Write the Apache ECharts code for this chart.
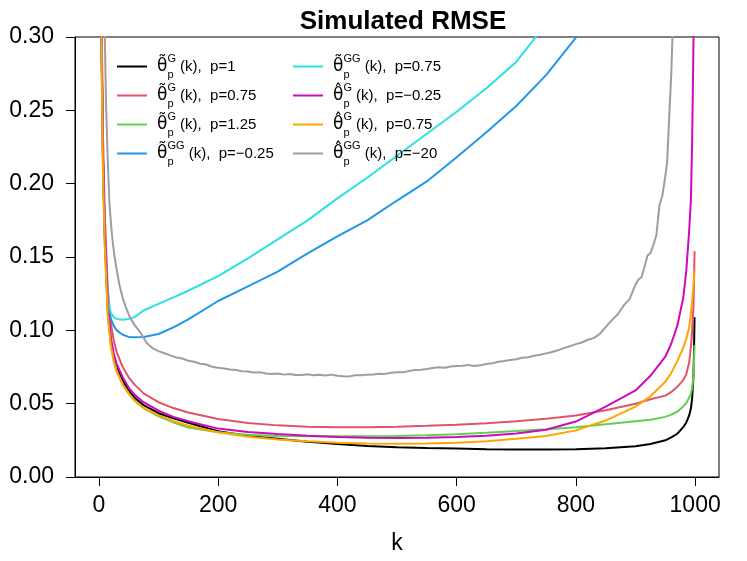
<!DOCTYPE html>
<html>
<head>
<meta charset="utf-8">
<script src="https://cdn.jsdelivr.net/npm/echarts@6/dist/echarts.min.js"></script>
<style>
  html, body { margin: 0; padding: 0; background: #fff; }
  #chart { width: 747px; height: 561px; }
</style>
</head>
<body>
<div id="chart"></div>
<script>
// k values shared by the smooth curves
const k = [1, 2, 3, 5, 7, 10, 15, 20, 25, 30, 40, 50, 60, 75, 100, 125, 150, 200, 250, 300,
  350, 400, 450, 500, 550, 600, 650, 700, 750, 800, 850, 900, 925, 950, 960, 970, 980, 985,
  990, 993, 995, 997, 998, 999];

const tildeG_p1 = [0.80, 0.52, 0.40, 0.28, 0.215, 0.165, 0.115, 0.093, 0.082, 0.075, 0.066, 0.059,
  0.054, 0.049, 0.0435, 0.040, 0.037, 0.0312, 0.028, 0.026, 0.024, 0.0225, 0.0212, 0.0203, 0.0197,
  0.0194, 0.019, 0.0187, 0.0187, 0.0189, 0.0196, 0.021, 0.0225, 0.025, 0.027, 0.0295, 0.034, 0.037,
  0.042, 0.047, 0.054, 0.067, 0.084, 0.109];
const tildeG_p075 = [0.85, 0.56, 0.43, 0.30, 0.232, 0.178, 0.128, 0.105, 0.093, 0.085, 0.075, 0.068,
  0.063, 0.057, 0.051, 0.047, 0.044, 0.0395, 0.0368, 0.0352, 0.0343, 0.034, 0.034, 0.0343, 0.0349,
  0.0357, 0.0367, 0.038, 0.0397, 0.042, 0.0455, 0.050, 0.053, 0.0555, 0.058, 0.0615, 0.066, 0.070,
  0.078, 0.089, 0.100, 0.115, 0.130, 0.154];
const tildeG_p125 = [0.78, 0.50, 0.39, 0.27, 0.205, 0.158, 0.110, 0.090, 0.079, 0.072, 0.063, 0.057,
  0.052, 0.047, 0.0413, 0.0372, 0.0338, 0.0305, 0.0288, 0.028, 0.0277, 0.0277, 0.0278, 0.028, 0.0285,
  0.0291, 0.0301, 0.0313, 0.0326, 0.034, 0.036, 0.038, 0.039, 0.041, 0.0425, 0.0445, 0.048, 0.0505,
  0.054, 0.057, 0.061, 0.068, 0.076, 0.090];
const tildeGG_pm025 = [0.80, 0.52, 0.40, 0.28, 0.215, 0.165, 0.120, 0.108, 0.103, 0.100, 0.097, 0.0955,
  0.0953, 0.0955, 0.0975, 0.102, 0.1075, 0.120, 0.130, 0.140, 0.1525, 0.164, 0.175, 0.1885, 0.2015,
  0.218, 0.235, 0.253, 0.274, 0.2995, 0.33, null, null, null, null, null, null, null,
  null, null, null, null, null, null];
const tildeGG_p075 = [0.80, 0.52, 0.40, 0.28, 0.215, 0.165, 0.122, 0.112, 0.109, 0.1078, 0.1072, 0.1078,
  0.109, 0.1135, 0.118, 0.1225, 0.127, 0.137, 0.149, 0.162, 0.175, 0.190, 0.204, 0.219, 0.234,
  0.249, 0.265, 0.283, 0.309, null, null, null, null, null, null, null, null, null,
  null, null, null, null, null, null];
const hatG_pm025 = [0.80, 0.52, 0.40, 0.285, 0.218, 0.167, 0.117, 0.095, 0.084, 0.077, 0.068, 0.061,
  0.056, 0.051, 0.0452, 0.041, 0.038, 0.033, 0.0307, 0.0293, 0.0281, 0.0273, 0.0268, 0.0266, 0.0268,
  0.0273, 0.0281, 0.0297, 0.0322, 0.0378, 0.048, 0.059, 0.069, 0.082, 0.091, 0.103, 0.122, 0.140,
  0.168, 0.190, 0.230, 0.290, 0.330, 0.380];
const hatG_p075 = [0.78, 0.50, 0.39, 0.27, 0.205, 0.157, 0.110, 0.090, 0.079, 0.072, 0.063, 0.057,
  0.052, 0.047, 0.042, 0.038, 0.035, 0.0305, 0.0275, 0.0255, 0.0243, 0.0234, 0.0229, 0.0227, 0.0229,
  0.0234, 0.0243, 0.026, 0.028, 0.0318, 0.0385, 0.048, 0.055, 0.065, 0.071, 0.079, 0.088, 0.094,
  0.102, 0.112, 0.120, 0.130, 0.136, 0.141];

// the noisy p=-20 curve has its own k grid
const kGray = [1, 5, 8, 10, 12, 15, 18, 22, 26, 30, 35, 40, 45, 52, 60, 66, 72, 80, 90, 100, 110, 120,
  130, 140, 150, 160, 170, 180, 190, 200, 210, 220, 230, 240, 250, 260, 270, 280, 290, 300, 310, 320,
  330, 340, 350, 360, 370, 380, 390, 400, 410, 420, 430, 440, 450, 460, 470, 480, 490, 500, 510, 520,
  530, 540, 550, 560, 570, 580, 590, 600, 610, 620, 630, 640, 650, 660, 670, 680, 690, 700, 710, 720,
  730, 740, 750, 760, 770, 780, 790, 800, 810, 820, 830, 840, 850, 860, 870, 880, 890, 900, 905, 910,
  915, 920, 925, 930, 935, 940, 945, 950, 953, 956, 958, 960, 962, 964];
const hatGG_pm20 = [0.95, 0.50, 0.36, 0.30, 0.255, 0.215, 0.185, 0.165, 0.151, 0.141, 0.130, 0.122,
  0.116, 0.109, 0.1035, 0.1005, 0.097, 0.0915, 0.0878, 0.0858, 0.0844, 0.0829, 0.0815, 0.0808, 0.0793,
  0.0786, 0.0772, 0.0767, 0.0752, 0.0745, 0.0740, 0.0733, 0.0729, 0.0721, 0.0719, 0.0712, 0.0715,
  0.0706, 0.0702, 0.0706, 0.0698, 0.0702, 0.0696, 0.0695, 0.0700, 0.0693, 0.0697, 0.0692, 0.0698,
  0.0690, 0.0687, 0.0686, 0.0693, 0.0694, 0.0698, 0.0699, 0.0704, 0.0703, 0.0711, 0.0715, 0.0714,
  0.0722, 0.0729, 0.0732, 0.0736, 0.0743, 0.0749, 0.0745, 0.0753, 0.0756, 0.0759, 0.0763, 0.0757,
  0.0762, 0.0771, 0.0775, 0.0786, 0.0791, 0.0798, 0.0803, 0.0813, 0.0817, 0.0827, 0.0834, 0.0843,
  0.0852, 0.0864, 0.0879, 0.0892, 0.0906, 0.0917, 0.0936, 0.0947, 0.0976, 0.1022, 0.1068, 0.1108,
  0.1168, 0.1213, 0.1312, 0.1346, 0.1362, 0.1432, 0.1508, 0.1527, 0.1583, 0.1648, 0.1852, 0.1918,
  0.2052, 0.2146, 0.2408, 0.2581, 0.2753, 0.301, 0.332];

const xTicks = [0, 200, 400, 600, 800, 1000];

const seriesDefs = [
  { name: 'tG_p1', acc: 'tilde', sup: 'G', p: '1', color: '#000000', x: k, y: tildeG_p1 },
  { name: 'tG_p075', acc: 'tilde', sup: 'G', p: '0.75', color: '#DF536B', x: k, y: tildeG_p075 },
  { name: 'tG_p125', acc: 'tilde', sup: 'G', p: '1.25', color: '#61D04F', x: k, y: tildeG_p125 },
  { name: 'tGG_pm025', acc: 'tilde', sup: 'GG', p: '\u22120.25', color: '#2297E6', x: k, y: tildeGG_pm025 },
  { name: 'tGG_p075', acc: 'tilde', sup: 'GG', p: '0.75', color: '#28E2E5', x: k, y: tildeGG_p075 },
  { name: 'hG_pm025', acc: 'hat', sup: 'G', p: '\u22120.25', color: '#CD0BBC', x: k, y: hatG_pm025 },
  { name: 'hG_p075', acc: 'hat', sup: 'G', p: '0.75', color: '#FFA500', x: k, y: hatG_p075 },
  { name: 'hGG_pm20', acc: 'hat', sup: 'GG', p: '\u221220', color: '#9E9E9E', x: kGray, y: hatGG_pm20 }
];

const FONT = "'Liberation Sans', Arial, Helvetica, sans-serif";

function legendLabel(name) {
  const d = seriesDefs.find(s => s.name === name);
  const th = d.acc === 'tilde' ? '\u03B8\u0303' : '\u03B8\u0302';
  return `{th|${th}}{sub|p}{sup|${d.sup}}{t| (k),  p=${d.p}}`;
}

const legendBase = {
  orient: 'vertical',
  top: 53,
  padding: 0,
  itemGap: 2,
  itemWidth: 30,
  itemHeight: 2,
  icon: 'rect',
  selectedMode: false,
  formatter: legendLabel,
  textStyle: {
    padding: [0, 0, 0, 5],
    rich: {
      th: { fontFamily: 'DejaVu Sans', fontSize: 17, color: '#000', lineHeight: 27 },
      sub: { fontFamily: FONT, fontSize: 11, color: '#000', width: 0, verticalAlign: 'bottom', lineHeight: 15 },
      sup: { fontFamily: FONT, fontSize: 11, color: '#000', verticalAlign: 'top', lineHeight: 15 },
      t: { fontFamily: FONT, fontSize: 15, color: '#000', lineHeight: 27 }
    }
  }
};

const option = {
  animation: false,
  backgroundColor: '#fff',
  title: {
    text: 'Simulated RMSE',
    left: 398,
    textAlign: 'center',
    top: 4,
    textStyle: { fontFamily: FONT, fontSize: 26, fontWeight: 'bold', color: '#000' }
  },
  legend: [
    Object.assign({}, legendBase, { left: 117, data: seriesDefs.slice(0, 4).map(s => s.name) }),
    Object.assign({}, legendBase, { left: 293, data: seriesDefs.slice(4).map(s => s.name) })
  ],
  grid: {
    left: 75,
    right: 28,
    top: 37,
    bottom: 84,
    show: true,
    borderColor: '#000',
    borderWidth: 1,
    backgroundColor: 'transparent'
  },
  xAxis: {
    type: 'value',
    min: -40,
    max: 1040,
    name: 'k',
    nameLocation: 'middle',
    nameGap: 55,
    nameTextStyle: { fontFamily: FONT, fontSize: 23, color: '#000' },
    axisLine: { show: true, onZero: false, lineStyle: { color: '#000', width: 1 } },
    axisTick: { show: true, length: 9, customValues: xTicks, lineStyle: { color: '#000' } },
    axisLabel: {
      customValues: xTicks,
      formatter: v => String(v),
      fontFamily: FONT,
      fontSize: 23,
      color: '#000',
      margin: 17
    },
    splitLine: { show: false }
  },
  yAxis: {
    type: 'value',
    min: 0,
    max: 0.3,
    interval: 0.05,
    axisLine: { show: true, onZero: false, lineStyle: { color: '#000', width: 1 } },
    axisTick: { show: true, length: 9, lineStyle: { color: '#000' } },
    axisLabel: {
      formatter: v => v.toFixed(2),
      fontFamily: FONT,
      fontSize: 23,
      color: '#000',
      margin: 21
    },
    splitLine: { show: false }
  },
  series: seriesDefs.map(s => ({
    name: s.name,
    type: 'line',
    data: s.x.map((kv, i) => [kv, s.y[i]]),
    showSymbol: false,
    symbol: 'none',
    smooth: false,
    connectNulls: false,
    clip: true,
    color: s.color,
    lineStyle: { color: s.color, width: 2 }
  }))
};

const chart = echarts.init(document.getElementById('chart'), null, { renderer: 'canvas' });
chart.setOption(option);
</script>
</body>
</html>
